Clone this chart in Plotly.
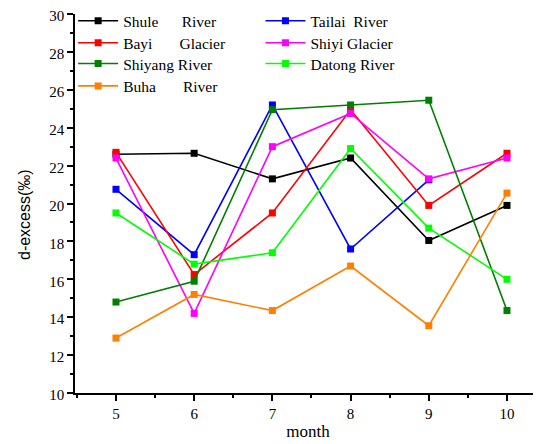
import plotly.graph_objects as go

months = [5, 6, 7, 8, 9, 10]
shule = [22.6, 22.65, 21.3, 22.4, 18.05, 19.9]
tailai = [20.75, 17.3, 25.2, 17.6, 21.25, None]
bayi = [22.7, 16.25, 19.5, 24.95, 19.9, 22.65]
shiyi = [22.4, 14.2, 23.0, 24.75, 21.3, 22.4]
shiyang = [14.8, 15.9, 24.95, 25.2, 25.45, 14.35]
datong = [19.5, 16.8, 17.4, 22.9, 18.7, 16.0]
buha = [12.9, 15.2, 14.35, 16.7, 13.55, 20.55]

NB = "\u00a0"
# (name, values, colour, legend column, legend row)
series = [
    ("Shule" + NB * 6 + "River", shule, "#000000", 0, 0),
    ("Tailai" + NB * 2 + "River", tailai, "#0000FF", 1, 0),
    ("Bayi" + NB * 7 + "Glacier", bayi, "#FF0000", 0, 1),
    ("Shiyi Glacier", shiyi, "#FF00FF", 1, 1),
    ("Shiyang River", shiyang, "#007F00", 0, 2),
    ("Datong River", datong, "#00FF00", 1, 2),
    ("Buha" + NB * 7 + "River", buha, "#FF8000", 0, 3),
]

serif = "Liberation Serif"
legfont = dict(family=serif, size=15.5, color="#000")
col_x = [-0.004, 0.398]
row_y = [1.026, 0.968, 0.913, 0.854]

fig = go.Figure()
legends = {}
for i, (name, vals, col, c, r) in enumerate(series):
    key = "legend" if i == 0 else f"legend{i + 1}"
    fig.add_trace(go.Scatter(
        x=months, y=vals, name=name, mode="lines+markers",
        line=dict(color=col, width=1.6),
        marker=dict(symbol="square", size=7, color=col),
        legend=key,
    ))
    legends[key] = dict(x=col_x[c], y=row_y[r], xanchor="left", yanchor="top",
                        bgcolor="rgba(0,0,0,0)", font=legfont, itemwidth=40)

fig.update_layout(**legends)
fig.update_layout(
    width=533, height=436,
    margin=dict(l=67, r=0, t=6, b=51, autoexpand=False),
    paper_bgcolor="white", plot_bgcolor="white",
    font=dict(family=serif, size=15, color="#000"),
    showlegend=True,
    xaxis=dict(
        range=[4.476, 10.435], tickmode="array", tickvals=months,
        ticktext=[str(m) for m in months],
        showgrid=False, zeroline=False, showline=True, linecolor="#000", linewidth=1.5,
        ticks="outside", ticklen=6, tickwidth=1.5, tickcolor="#000",
        minor=dict(dtick=0.5, tick0=4.5, ticks="outside", ticklen=3, tickwidth=1.5, tickcolor="#000", showgrid=False),
        tickfont=dict(family=serif, size=15),
        title=dict(text="month", font=dict(family=serif, size=17), standoff=4),
    ),
    yaxis=dict(
        range=[10, 30], dtick=2, tick0=10,
        showgrid=False, zeroline=False, showline=True, linecolor="#000", linewidth=1.5,
        ticks="outside", ticklen=6, tickwidth=1.5, tickcolor="#000",
        ticklabeloverflow="allow", ticklabelshift=2,
        minor=dict(dtick=1, ticks="outside", ticklen=3, tickwidth=1.5, tickcolor="#000", showgrid=False),
        tickfont=dict(family=serif, size=15),
    ),
    annotations=[dict(
        text="d-excess(‰)", textangle=-90, xref="paper", yref="paper",
        x=-0.107, y=0.47, xanchor="center", yanchor="middle", showarrow=False,
        font=dict(family="Liberation Sans", size=16, color="#000"),
    )],
)

fig.write_html("out.html")
